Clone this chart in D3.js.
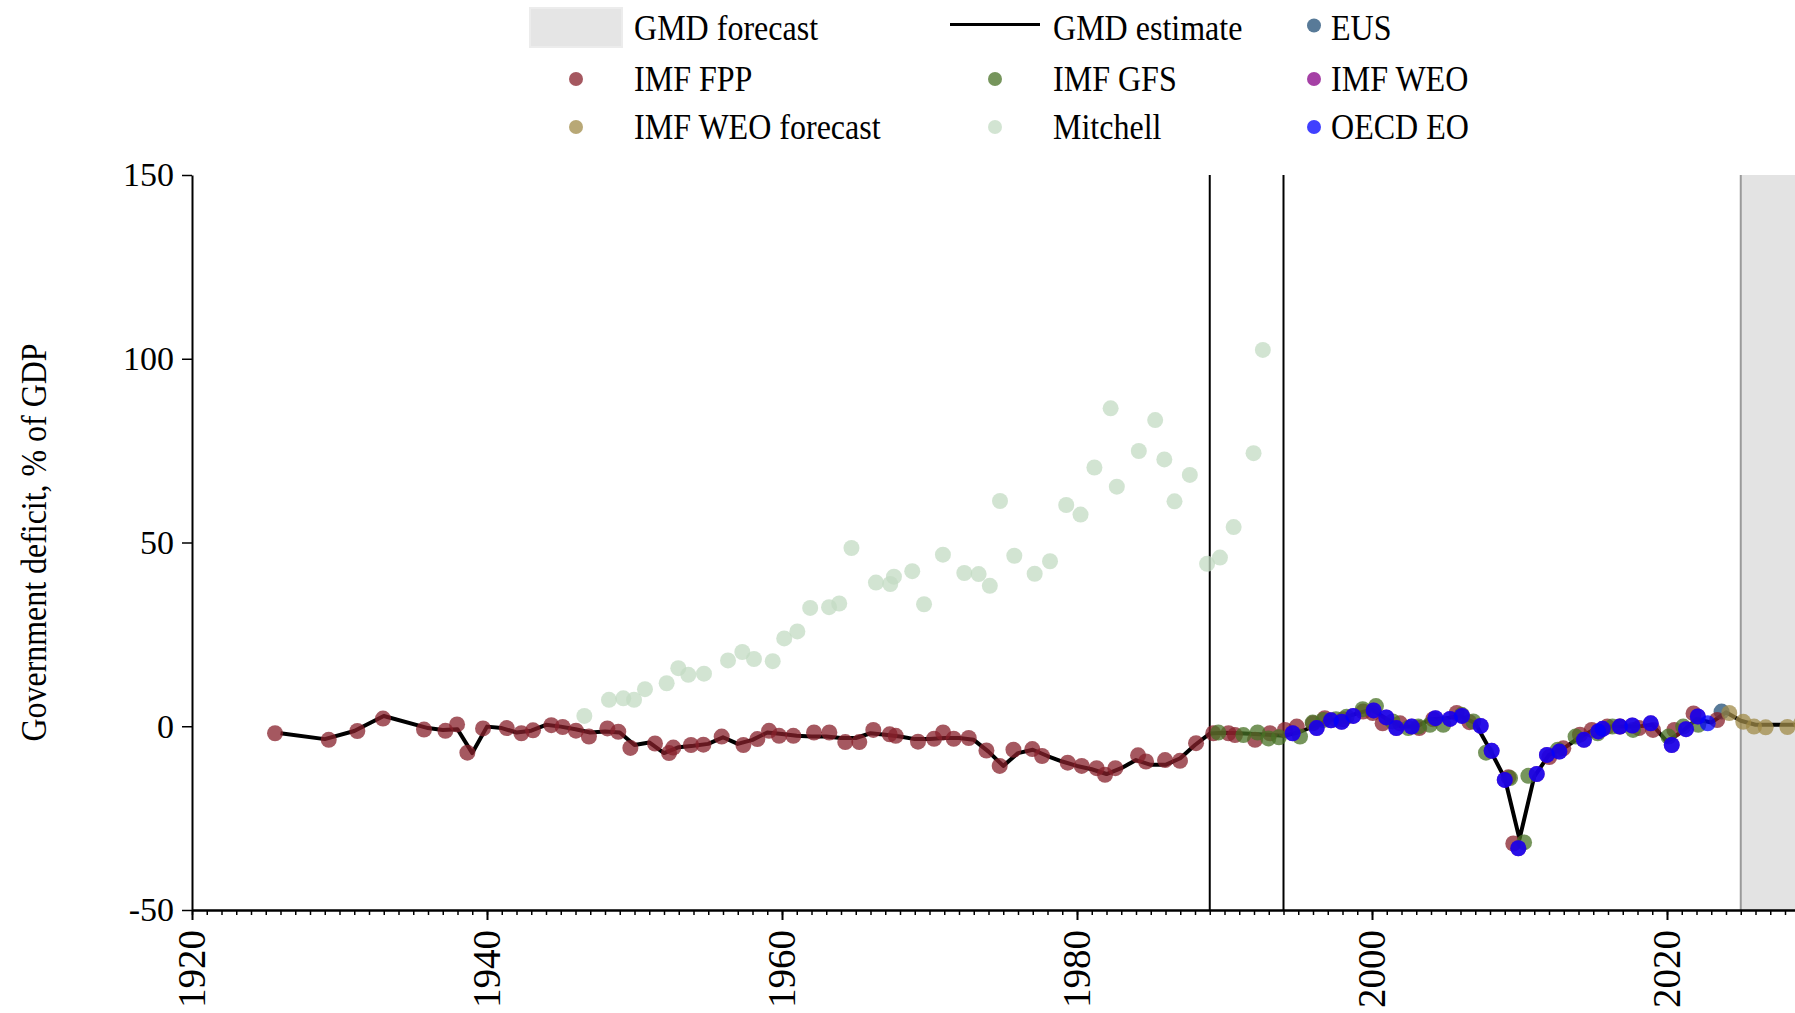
<!DOCTYPE html>
<html>
<head>
<meta charset="utf-8">
<script src="https://cdn.jsdelivr.net/npm/d3@7"></script>
<style>
  body { margin: 0; overflow: hidden; background: #fff; }
  text { font-family: "Liberation Serif", "Times New Roman", serif; fill: #000; }
</style>
</head>
<body>
<svg id="chart"></svg>
<script>
  // GMD estimate (black line), one value per year
  const gmdEstimate = [
    [1926,-1.9],[1929,-3.5],[1931,-1.3],[1933,2.8],[1936,-0.5],[1937,-1.0],[1938,-0.8],[1939,-7.3],
    [1940,-0.1],[1941,-0.5],[1942,-1.7],[1943,-1.2],[1944,0.4],[1945,-0.1],[1946,-0.8],[1947,-1.7],
    [1948,-1.4],[1949,-1.7],[1950,-5.1],[1951,-4.4],[1952,-7.3],[1953,-5.7],[1954,-5.3],[1955,-4.8],
    [1956,-3.0],[1957,-4.8],[1958,-3.7],[1959,-1.7],[1960,-2.1],[1961,-2.6],[1962,-2.8],[1963,-2.8],
    [1964,-3.2],[1965,-3.2],[1966,-1.9],[1967,-2.3],[1968,-2.8],[1969,-3.5],[1970,-3.5],[1971,-3.2],
    [1972,-3.2],[1973,-3.7],[1974,-6.9],[1975,-10.8],[1976,-7.3],[1977,-6.4],[1978,-8.1],[1979,-9.6],
    [1980,-10.8],[1981,-11.7],[1982,-13.0],[1983,-11.4],[1984,-9.2],[1985,-10.5],[1986,-10.5],[1987,-8.7],
    [1988,-5.1],[1989,-2.0],[1990,-1.8],[1991,-1.9],[1992,-2.1],[1993,-2.3],[1994,-2.6],[1995,-1.7],
    [1996,-0.1],[1997,1.6],[1998,2.2],[1999,3.5],[2000,4.6],[2001,1.9],[2002,-0.1],[2003,-0.1],
    [2004,1.9],[2005,2.2],[2006,2.8],[2007,0.8],[2008,-6.4],[2009,-14.1],[2010,-30.7],[2011,-13.7],
    [2012,-7.8],[2013,-6.0],[2014,-3.2],[2015,-1.0],[2016,-0.1],[2017,-0.1],[2018,-0.1],[2019,0.4],
    [2020,-4.2],[2021,-1.5],[2022,1.9],[2023,1.0],[2024,3.8],[2025,1.5],[2026,0.4],[2027,0.4],
    [2028,0.4],[2029,0.4],[2030,0.5]
  ];

  // source points (year as placed in the picture, value)
  const imfFpp = [
    [1925.63,-1.9],[1929.27,-3.7],[1931.21,-1.3],[1932.95,2.1],[1935.73,-0.9],[1937.18,-1.25],[1937.97,0.5],
    [1938.67,-7.2],[1939.73,-0.6],[1941.34,-0.5],[1942.33,-1.9],[1943.12,-1.1],[1944.36,0.3],[1945.13,-0.2],
    [1946.03,-1.2],[1946.91,-2.8],[1948.16,-0.6],[1948.9,-1.5],[1949.72,-5.9],[1951.39,-4.7],[1952.34,-7.3],
    [1952.63,-5.8],[1953.83,-5.1],[1954.67,-5.0],[1955.91,-2.8],[1957.38,-5.1],[1958.33,-3.5],[1959.12,-1.25],
    [1959.8,-2.6],[1960.77,-2.6],[1962.17,-1.7],[1963.21,-1.7],[1964.29,-4.3],[1965.24,-4.3],[1966.19,-1.0],
    [1967.3,-2.2],[1967.71,-2.6],[1969.22,-4.2],[1970.31,-3.4],[1970.92,-1.7],[1971.64,-3.4],[1972.66,-3.2],
    [1973.86,-6.6],[1974.76,-10.8],[1975.69,-6.4],[1976.97,-6.2],[1977.63,-8.1],[1979.37,-9.9],[1980.32,-10.8],
    [1981.33,-11.4],[1981.9,-13.2],[1982.6,-11.4],[1984.14,-7.9],[1984.68,-9.6],[1985.97,-9.2],[1986.98,-9.4],
    [1988.07,-4.6],[1989.24,-1.9],[1990.27,-1.9],[1990.71,-2.4],[1992.07,-3.7],[1993.08,-1.9],[1994.1,-1.0],
    [1994.9,-0.1],[1996.0,0.8],[1996.8,2.2],[1998.06,1.9],[1999.4,4.0],[2000.05,3.6],[2000.72,0.8],
    [2001.9,0.8],[2003.2,-0.5],[2004.15,1.9],[2005.74,3.6],[2006.6,1.1],[2009.25,-13.9],[2009.58,-31.9],
    [2012.02,-8.4],[2012.97,-6.0],[2014.1,-2.3],[2014.9,-1.0],[2015.95,-0.1],[2016.8,-0.1],[2018.1,-0.5],
    [2019.05,-1.0],[2020.5,-1.0],[2021.8,3.5],[2023.4,1.7]
  ];
  const imfGfs = [
    [1989.58,-1.7],[1991.28,-2.4],[1992.24,-1.7],[1992.97,-3.3],[1993.69,-3.0],[1995.12,-2.8],[1995.98,1.0],
    [1996.7,1.7],[1997.56,1.9],[1998.28,2.6],[1999.37,4.65],[2000.27,5.5],[2001.4,1.3],[2002.46,-0.5],
    [2003.14,-0.1],[2003.93,0.4],[2004.83,0.4],[2006.08,3.1],[2006.87,1.3],[2007.73,-7.2],[2009.36,-14.1],
    [2010.31,-31.6],[2010.6,-13.5],[2012.6,-6.4],[2013.8,-2.8],[2015.3,-1.9],[2016.3,-0.1],[2017.7,-1.0],
    [2020.1,-2.8],[2021.1,-0.1],[2022.12,0.4]
  ];
  const oecdEo = [
    [1994.62,-1.9],[1996.25,-0.5],[1997.22,1.6],[1997.94,1.2],[1998.73,2.8],[2000.11,4.3],[2000.97,2.4],
    [2001.65,-0.5],[2002.69,-0.1],[2004.3,2.2],[2005.29,2.0],[2006.1,2.8],[2007.37,0.1],[2008.11,-6.7],
    [2009.0,-14.6],[2009.92,-33.2],[2011.17,-13.0],[2011.86,-7.8],[2012.7,-6.9],[2014.37,-3.7],[2015.34,-1.4],
    [2015.64,-0.7],[2016.81,-0.1],[2017.65,0.2],[2018.9,0.8],[2020.32,-5.1],[2021.29,-0.8],[2022.09,2.65],
    [2022.76,0.8]
  ];
  // IMF WEO sits under the OECD points
  const imfWeo = [
    [1994.62,-1.9],[1996.25,-0.5],[1997.22,1.6],[1997.94,1.2],[1998.73,2.8],[2000.11,4.3],[2000.97,2.4],
    [2001.65,-0.5],[2002.69,-0.1],[2004.3,2.2],[2005.29,2.0],[2006.1,2.8],[2007.37,0.1],[2008.11,-6.7],
    [2009.0,-14.6],[2009.92,-33.2],[2011.17,-13.0],[2011.86,-7.8],[2012.7,-6.9],[2014.37,-3.7],[2015.34,-1.4],
    [2015.64,-0.7],[2016.81,-0.1],[2017.65,0.2],[2018.9,0.8],[2020.32,-5.1],[2021.29,-0.8],[2022.09,2.65]
  ];
  const eus = [[2023.7,4.0]];
  const imfWeoForecast = [[2024.22,3.6],[2025.17,1.2],[2025.9,-0.1],[2026.69,-0.3],[2028.16,-0.2],[2029.1,0.8]];
  const mitchell = [
    [1946.6,2.8],[1948.27,7.2],[1949.24,7.6],[1949.97,7.2],[1950.71,10.1],[1952.18,11.7],[1952.97,15.8],
    [1953.65,14.0],[1954.71,14.3],[1956.34,17.9],[1957.31,20.2],[1958.1,18.3],[1959.37,17.7],[1960.15,23.9],
    [1961.04,25.8],[1961.91,32.2],[1963.19,32.4],[1963.88,33.4],[1964.71,48.5],[1966.37,39.1],[1967.34,38.7],
    [1967.59,40.7],[1968.83,42.2],[1969.63,33.2],[1970.91,46.7],[1972.36,41.7],[1973.33,41.4],[1974.09,38.2],
    [1974.78,61.3],[1975.75,46.4],[1977.13,41.5],[1978.17,44.9],[1979.27,60.2],[1980.24,57.6],[1981.18,70.4],
    [1982.28,86.5],[1982.7,65.2],[1984.19,74.9],[1985.3,83.3],[1985.92,72.6],[1986.61,61.2],[1987.65,68.4],
    [1988.82,44.2],[1989.69,45.9],[1990.62,54.2],[1991.97,74.3],[1992.6,102.4]
  ];

  const markerYears = [1989, 1994];
  const forecastStart = 2025;
  const yTicks = [-50, 0, 50, 100, 150];
  const xTicks = [1920, 1940, 1960, 1980, 2000, 2020];

  const series = [
    { name: "EUS", data: eus, color: "#204e76" },
    { name: "IMF FPP", data: imfFpp, color: "#87202b" },
    { name: "IMF GFS", data: imfGfs, color: "#487126" },
    { name: "IMF WEO", data: imfWeo, color: "#870087" },
    { name: "IMF WEO forecast", data: imfWeoForecast, color: "#a08b48" },
    { name: "Mitchell", data: mitchell, color: "#c3dbc3" },
    { name: "OECD EO", data: oecdEo, color: "#0000ff" }
  ];

  const width = 1795, height = 1013;
  const svg = d3.select("#chart").attr("width", width).attr("height", height);

  const x = d3.scaleLinear().domain([1920, 2030]).range([192, 1814.5]);
  const y = d3.scaleLinear().domain([-50, 150]).range([910, 175]);

  // forecast shading
  svg.append("rect")
      .attr("x", x(forecastStart)).attr("y", y(150))
      .attr("width", x(2030) - x(forecastStart) + 20).attr("height", y(-50) - y(150))
      .attr("fill", "#e3e3e3");
  svg.append("line")
      .attr("x1", x(forecastStart)).attr("x2", x(forecastStart))
      .attr("y1", y(150)).attr("y2", y(-50))
      .attr("stroke", "#9a9a9a").attr("stroke-width", 2);

  // vertical marker lines
  svg.append("g").selectAll("line")
    .data(markerYears)
    .join("line")
      .attr("x1", d => x(d)).attr("x2", d => x(d))
      .attr("y1", y(150)).attr("y2", y(-50))
      .attr("stroke", "#000").attr("stroke-width", 2);

  // GMD estimate line
  svg.append("path")
      .datum(gmdEstimate)
      .attr("fill", "none")
      .attr("stroke", "#000")
      .attr("stroke-width", 4)
      .attr("stroke-linejoin", "round")
      .attr("d", d3.line().x(d => x(d[0])).y(d => y(d[1])));

  // source points
  svg.append("g").selectAll("g")
    .data(series)
    .join("g")
      .attr("fill", d => d.color)
      .attr("fill-opacity", 0.75)
    .selectAll("circle")
    .data(d => d.data)
    .join("circle")
      .attr("cx", d => x(d[0]))
      .attr("cy", d => y(d[1]))
      .attr("r", 8);

  // axes
  const yAxis = svg.append("g")
      .attr("transform", `translate(${x(1920)},0)`)
      .call(d3.axisLeft(y).tickValues(yTicks).tickSize(10).tickSizeOuter(0).tickPadding(8)
        .tickFormat(d => String(d)));
  yAxis.selectAll("text").style("font-size", "34px").style("font-family", "Liberation Serif");

  svg.append("g")
      .attr("transform", `translate(0,${y(-50)})`)
      .call(d3.axisBottom(x).tickValues(d3.range(1920, 2031)).tickSize(5).tickFormat("").tickSizeOuter(0));
  const xAxis = svg.append("g")
      .attr("transform", `translate(0,${y(-50)})`)
      .call(d3.axisBottom(x).tickValues(xTicks).tickSize(10).tickSizeOuter(0).tickFormat(d => String(d)));
  xAxis.selectAll("text")
      .attr("transform", "rotate(-90)")
      .attr("x", -20).attr("y", 0).attr("dy", "0.33em")
      .style("text-anchor", "end")
      .style("font-size", "39px").style("font-family", "Liberation Serif");

  svg.selectAll(".domain").attr("stroke-width", 2);
  svg.selectAll(".tick line").attr("stroke-width", 1.5);
  xAxis.selectAll(".tick line").attr("stroke-width", 2);

  // y title
  svg.append("text")
      .attr("transform", `translate(34,${y(50)}) rotate(-90)`)
      .attr("text-anchor", "middle")
      .attr("dominant-baseline", "central")
      .attr("textLength", 398)
      .attr("lengthAdjust", "spacingAndGlyphs")
      .style("font-size", "36px")
      .text("Government deficit, % of GDP");

  // legend
  const legendRows = [27.5, 79, 127];
  const legendCols = [576, 995, 1314];
  const legendText = [634, 1053, 1331];
  const legendItems = [
    { label: "GMD forecast", kind: "rect", col: 0, row: 0 },
    { label: "GMD estimate", kind: "line", col: 1, row: 0 },
    { label: "EUS", kind: "dot", col: 2, row: 0, color: "#204e76" },
    { label: "IMF FPP", kind: "dot", col: 0, row: 1, color: "#87202b" },
    { label: "IMF GFS", kind: "dot", col: 1, row: 1, color: "#487126" },
    { label: "IMF WEO", kind: "dot", col: 2, row: 1, color: "#870087" },
    { label: "IMF WEO forecast", kind: "dot", col: 0, row: 2, color: "#a08b48" },
    { label: "Mitchell", kind: "dot", col: 1, row: 2, color: "#c3dbc3" },
    { label: "OECD EO", kind: "dot", col: 2, row: 2, color: "#0000ff" }
  ];
  const legend = svg.append("g");
  legendItems.forEach(it => {
    const cx = legendCols[it.col], cy = legendRows[it.row];
    if (it.kind === "rect") {
      legend.append("rect").attr("x", 530).attr("y", 8).attr("width", 92).attr("height", 39)
          .attr("fill", "#e5e5e5").attr("stroke", "#ececec").attr("stroke-width", 2);
    } else if (it.kind === "line") {
      legend.append("line").attr("x1", 950).attr("x2", 1040).attr("y1", cy - 3).attr("y2", cy - 3)
          .attr("stroke", "#000").attr("stroke-width", 3);
    } else {
      legend.append("circle").attr("cx", cx).attr("cy", cy - (it.row === 0 ? 2 : 0)).attr("r", 7)
          .attr("fill", it.color).attr("fill-opacity", 0.75);
    }
    legend.append("text")
        .attr("transform", `translate(${legendText[it.col]},${cy + 12}) scale(0.89,1)`)
        .style("font-size", "36px")
        .text(it.label);
  });
</script>
</body>
</html>
